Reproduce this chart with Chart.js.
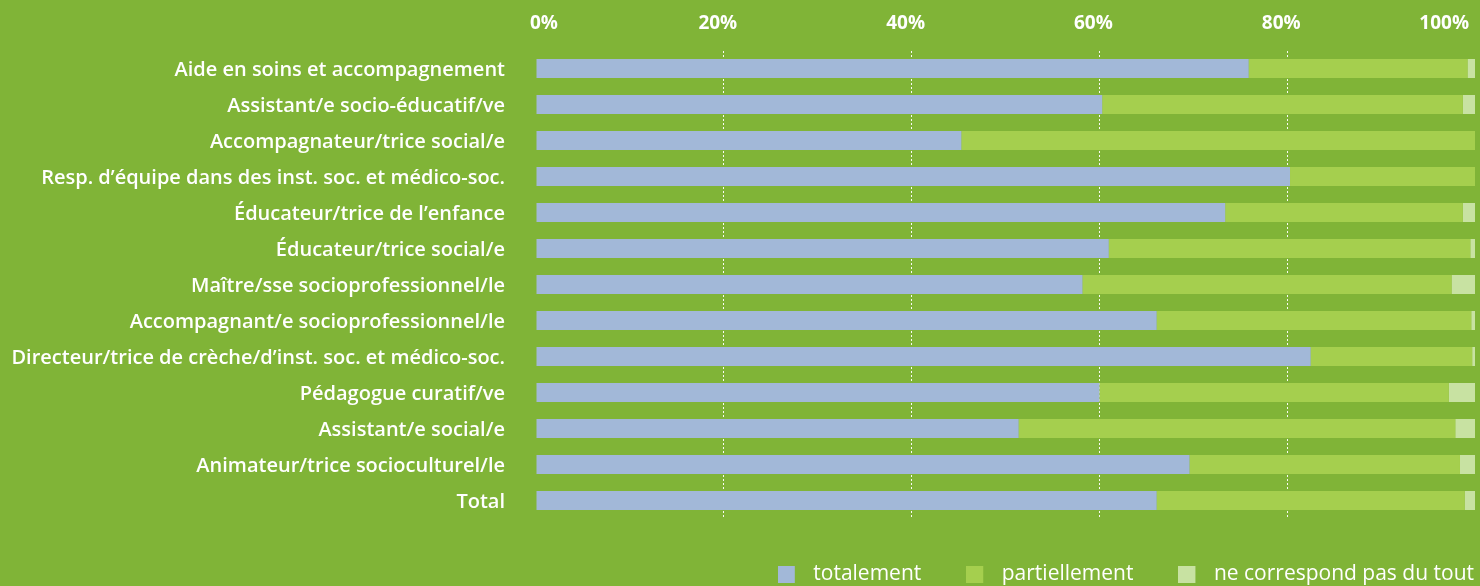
<!DOCTYPE html>
<html>
<head>
<meta charset="utf-8">
<script src="https://cdn.jsdelivr.net/npm/chart.js@4/dist/chart.umd.min.js"></script>
<style>
html, body { margin: 0; padding: 0; background: #80b437; }
#wrap { width: 1480px; height: 586px; position: relative; }
</style>
</head>
<body>
<div id="wrap"><canvas id="c"></canvas></div>
<script>
const categories = [
  "Aide en soins et accompagnement",
  "Assistant/e socio-éducatif/ve",
  "Accompagnateur/trice social/e",
  "Resp. d’équipe dans des inst. soc. et médico-soc.",
  "Éducateur/trice de l’enfance",
  "Éducateur/trice social/e",
  "Maître/sse socioprofessionnel/le",
  "Accompagnant/e socioprofessionnel/le",
  "Directeur/trice de crèche/d’inst. soc. et médico-soc.",
  "Pédagogue curatif/ve",
  "Assistant/e social/e",
  "Animateur/trice socioculturel/le",
  "Total"
];
const totalement    = [75.9, 60.3, 45.3, 80.3, 73.4, 61.0, 58.2, 66.1, 82.5, 60.0, 51.4, 69.6, 66.1];
const partiellement = [23.3, 38.4, 54.7, 19.7, 25.3, 38.5, 39.3, 33.5, 17.2, 37.2, 46.5, 28.8, 32.8];
const neCorrespond  = [0.8, 1.3, 0.0, 0.0, 1.3, 0.5, 2.5, 0.4, 0.3, 2.8, 2.1, 1.6, 1.1];
const seriesNames = ["totalement", "partiellement", "ne correspond pas du tout"];
const tickValues = [0, 20, 40, 60, 80, 100];

const WHITE = "#ffffff";
const COLORS = ["#a2b8d8", "#a5cf4e", "#c8e2a2"];

// legend swatch: 17x17 square on the left of a 25px wide slot
function makeSwatch(color) {
  const cv = document.createElement("canvas");
  cv.width = 25; cv.height = 17;
  const g = cv.getContext("2d");
  g.fillStyle = color;
  g.fillRect(0, 0, 17, 17);
  return cv;
}
const swatches = COLORS.map(makeSwatch);

new Chart(document.getElementById("c"), {
  type: "bar",
  data: {
    labels: categories,
    datasets: [
      { label: seriesNames[0], data: totalement, backgroundColor: COLORS[0], barPercentage: 1, categoryPercentage: 0.53 },
      { label: seriesNames[1], data: partiellement, backgroundColor: COLORS[1], barPercentage: 1, categoryPercentage: 0.53 },
      { label: seriesNames[2], data: neCorrespond, backgroundColor: COLORS[2], barPercentage: 1, categoryPercentage: 0.53 }
    ]
  },
  options: {
    indexAxis: "y",
    responsive: true,
    maintainAspectRatio: false,
    animation: false,
    layout: { padding: { left: 0, right: -39, top: 0, bottom: -8.5 } },
    scales: {
      x: {
        position: "top",
        stacked: true,
        min: 0,
        max: 100,
        z: 1,
        afterBuildTicks: (s) => { s.ticks = tickValues.map(v => ({ value: v })); },
        ticks: {
          color: WHITE,
          font: { family: "Open Sans", weight: "700", size: 19 },
          padding: 16,
          align: "inner",
          labelOffset: -6,
          callback: (v) => v + "%"
        },
        grid: {
          drawTicks: false,
          lineWidth: 1,
          color: (ctx) => (ctx.tick && (ctx.tick.value === 0 || ctx.tick.value === 100)) ? "rgba(0,0,0,0)" : "rgba(255,255,255,0.95)"
        },
        border: { display: false, dash: [2, 2] },
        afterFit: (s) => { s.height = 50.5; s.paddingRight = 5; s.paddingLeft = 0; }
      },
      y: {
        stacked: true,
        grid: { display: false, drawTicks: false },
        border: { display: false },
        ticks: {
          color: WHITE,
          font: { family: "Open Sans", weight: "600", size: 20 },
          padding: 31,
          labelOffset: 2
        },
        afterFit: (s) => { s.width = 536; }
      }
    },
    plugins: {
      legend: {
        position: "bottom",
        align: "end",
        labels: {
          color: WHITE,
          font: { family: "Open Sans", size: 21 },
          usePointStyle: true,
          pointStyleWidth: 25,
          boxHeight: 17,
          padding: 45,
          generateLabels: (chart) => {
            const items = Chart.defaults.plugins.legend.labels.generateLabels(chart);
            items.forEach((it, i) => { it.pointStyle = swatches[i]; });
            return items;
          }
        }
      },
      tooltip: { enabled: false }
    }
  }
});
</script>
</body>
</html>
